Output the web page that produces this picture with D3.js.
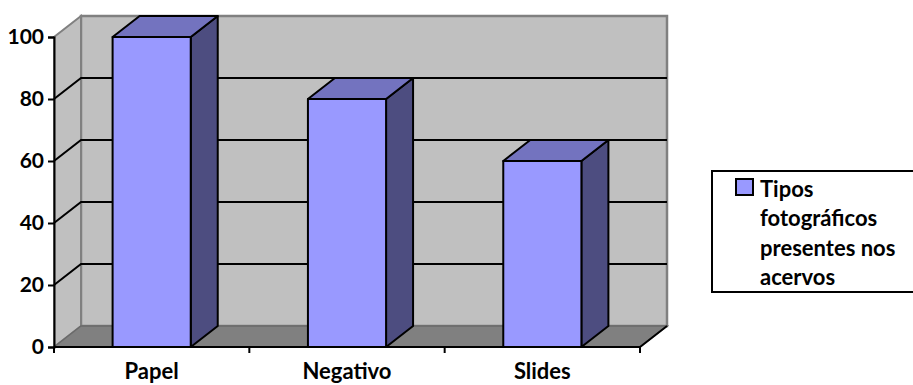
<!DOCTYPE html>
<html>
<head>
<meta charset="utf-8">
<script src="https://cdn.jsdelivr.net/npm/d3@7"></script>
<style>
  html, body { margin: 0; padding: 0; background: #ffffff; }
  svg { display: block; font-family: Lato, "Open Sans", sans-serif; font-weight: bold; }
</style>
</head>
<body>
<svg id="chart" width="913" height="385"></svg>
<script>
// Data
const categories = ["Papel", "Negativo", "Slides"];
const values = [100, 80, 60];
const yTicks = [0, 20, 40, 60, 80, 100];
const seriesName = "Tipos fotográficos presentes nos acervos";
const legendLines = ["Tipos", "fotográficos", "presentes nos", "acervos"];

// Layout
const front = { left: 54, right: 640, top: 37, bottom: 347 };
const depth = { dx: 27, dy: 21 };

const svg = d3.select("#chart");

const x = d3.scaleBand().domain(categories).range([front.left, front.right]);
const y = d3.scaleLinear().domain([0, 100]).range([front.bottom, front.top]);

const wallFill = "#c0c0c0";
const wallEdge = "#808080";
const floorFill = "#808080";
const barFront = "#9999ff";
const barTop = "#7373bf";
const barSide = "#4d4d80";

const pts = a => a.map(p => p.join(",")).join(" ");

// Back wall
svg.append("polygon")
  .attr("points", pts([
    [front.left + depth.dx, y(100) - depth.dy],
    [front.right + depth.dx, y(100) - depth.dy],
    [front.right + depth.dx, y(0) - depth.dy],
    [front.left + depth.dx, y(0) - depth.dy]
  ]))
  .attr("fill", wallFill)
  .attr("stroke", wallEdge)
  .attr("stroke-width", 2.5);

// Side wall
svg.append("polygon")
  .attr("points", pts([
    [front.left, y(100)],
    [front.left + depth.dx, y(100) - depth.dy],
    [front.left + depth.dx, y(0) - depth.dy],
    [front.left, y(0)]
  ]))
  .attr("fill", wallFill)
  .attr("stroke", wallEdge)
  .attr("stroke-width", 2);

// Floor
svg.append("polygon")
  .attr("points", pts([
    [front.left, y(0)],
    [front.left + depth.dx, y(0) - depth.dy],
    [front.right + depth.dx, y(0) - depth.dy],
    [front.right, y(0)]
  ]))
  .attr("fill", floorFill)
  .attr("stroke", "#6a6a6a")
  .attr("stroke-width", 1.5);

// Floor right edge
svg.append("line")
  .attr("x1", front.right).attr("y1", y(0))
  .attr("x2", front.right + depth.dx).attr("y2", y(0) - depth.dy)
  .attr("stroke", "#000").attr("stroke-width", 2);

// Gridlines on side and back walls
const gridVals = yTicks.filter(v => v > 0 && v < 100);
const grid = svg.append("g").attr("stroke", "#000").attr("stroke-width", 2).attr("fill", "none");
gridVals.forEach(v => {
  grid.append("polyline")
    .attr("points", pts([
      [front.left, y(v)],
      [front.left + depth.dx, y(v) - depth.dy],
      [front.right + depth.dx, y(v) - depth.dy]
    ]));
});

// Bars
const barW = x.bandwidth() * 0.4;
const bars = svg.append("g").attr("stroke", "#000").attr("stroke-width", 2).attr("stroke-linejoin", "round");
categories.forEach((c, i) => {
  const x0 = x(c) + (x.bandwidth() - barW) / 2;
  const x1 = x0 + barW;
  const yt = y(values[i]);
  const yb = y(0);
  // side face
  bars.append("polygon")
    .attr("points", pts([[x1, yt], [x1 + depth.dx, yt - depth.dy], [x1 + depth.dx, yb - depth.dy], [x1, yb]]))
    .attr("fill", barSide);
  // top face
  bars.append("polygon")
    .attr("points", pts([[x0, yt], [x0 + depth.dx, yt - depth.dy], [x1 + depth.dx, yt - depth.dy], [x1, yt]]))
    .attr("fill", barTop);
  // front face
  bars.append("rect")
    .attr("x", x0).attr("y", yt)
    .attr("width", barW).attr("height", yb - yt)
    .attr("fill", barFront);
});

// Y axis
const yAxis = svg.append("g")
  .attr("transform", `translate(${front.left},0)`)
  .call(d3.axisLeft(y).tickValues(yTicks).tickSize(6).tickPadding(4).tickFormat(d3.format("d")));
yAxis.select(".domain").attr("stroke", "#000").attr("stroke-width", 2);
yAxis.selectAll(".tick line").attr("stroke", "#000").attr("stroke-width", 2);
yAxis.selectAll(".tick text")
  .attr("fill", "#000")
  .style("font-size", "21px")
  .style("font-family", "Lato, sans-serif")
  .style("font-weight", "bold");

// X axis (front edge of floor)
svg.append("line")
  .attr("x1", front.left).attr("y1", y(0))
  .attr("x2", front.right).attr("y2", y(0))
  .attr("stroke", "#000").attr("stroke-width", 2);
const edges = categories.map(c => x(c)).concat([front.right]);
svg.append("g").selectAll("line").data(edges).join("line")
  .attr("x1", d => d).attr("x2", d => d)
  .attr("y1", y(0)).attr("y2", y(0) + 6)
  .attr("stroke", "#000").attr("stroke-width", 2);
svg.append("g").selectAll("text").data(categories).join("text")
  .attr("x", d => x(d) + x.bandwidth() / 2)
  .attr("y", 379)
  .attr("text-anchor", "middle")
  .attr("font-size", 22)
  .text(d => d);

// Legend
const legend = svg.append("g");
legend.append("rect")
  .attr("x", 712).attr("y", 171)
  .attr("width", 230).attr("height", 121)
  .attr("fill", "#fff").attr("stroke", "#000").attr("stroke-width", 2);
legend.append("rect")
  .attr("x", 736).attr("y", 179)
  .attr("width", 17).attr("height", 16)
  .attr("fill", barFront).attr("stroke", "#000").attr("stroke-width", 2);
legend.append("text")
  .attr("font-size", 22)
  .selectAll("tspan").data(legendLines).join("tspan")
  .attr("x", 760)
  .attr("y", (d, i) => 197 + i * 29.3)
  .text(d => d);
legend.append("title").text(seriesName);
</script>
</body>
</html>
